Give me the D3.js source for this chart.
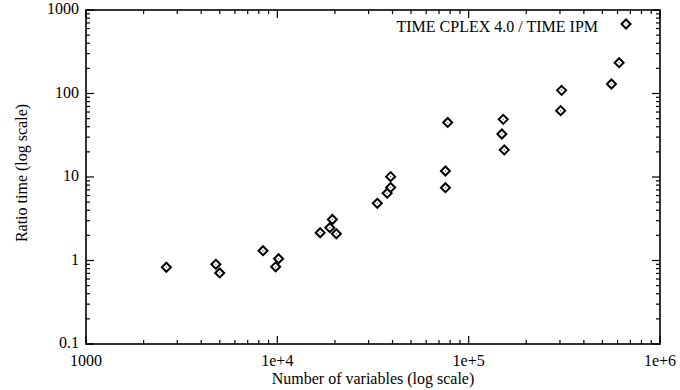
<!DOCTYPE html>
<html>
<head>
<meta charset="utf-8">
<script src="https://cdn.jsdelivr.net/npm/d3@7"></script>
<style>
  body { margin: 0; background: #fff; }
  text { font-family: "Liberation Serif", "DejaVu Serif", serif; font-size: 16px; fill: #000; }
</style>
</head>
<body>
<script>
// number of variables per problem
var variables = [2630, 4770, 5000, 8420, 10150, 9800, 16750, 19400, 18800, 20350,
                 33300, 37500, 39100, 39100, 77700, 75600, 75600,
                 151600, 149100, 153500, 306000, 302500, 557500, 611600];
// ratio TIME CPLEX 4.0 / TIME IPM
var ratios = [0.83, 0.90, 0.71, 1.31, 1.05, 0.84, 2.15, 3.1, 2.47, 2.09,
              4.84, 6.4, 7.5, 10.1, 45, 11.8, 7.45,
              49, 32.7, 21.1, 109, 62.3, 130, 234];
var xTicks = [1e3, 1e4, 1e5, 1e6],
    xTickLabels = ["1000", "1e+4", "1e+5", "1e+6"];
var yTicks = [0.1, 1, 10, 100, 1000],
    yTickLabels = ["0.1", "1", "10", "100", "1000"];
var legendLabel = "TIME CPLEX 4.0 / TIME IPM";

var margin = {top: 10, right: 20, bottom: 46, left: 86},
    width = 680 - margin.left - margin.right,   // 574
    height = 390 - margin.top - margin.bottom;  // 334

var x = d3.scaleLog().domain([1e3, 1e6]).range([0, width]),
    y = d3.scaleLog().domain([0.1, 1000]).range([height, 0]);

var svg = d3.select("body").append("svg")
    .attr("width", 680)
    .attr("height", 390)
  .append("g")
    .attr("transform", "translate(" + margin.left + "," + margin.top + ")");

// minor ticks 2..9 in every decade
function minors(lo, hi) {
  var out = [];
  for (var d = lo; d < hi; d *= 10)
    for (var k = 2; k <= 9; k++) out.push(d * k);
  return out;
}
var xMinor = minors(1e3, 1e6), yMinor = minors(0.1, 1000);

var ticks = svg.append("g").attr("stroke", "#000").attr("stroke-width", 1.2);

// bottom + top
[[height, -1], [0, 1]].forEach(function(s) {
  ticks.selectAll(null).data(xTicks).enter().append("line")
      .attr("x1", function(d) { return x(d); }).attr("x2", function(d) { return x(d); })
      .attr("y1", s[0]).attr("y2", s[0] + s[1] * 8);
  ticks.selectAll(null).data(xMinor).enter().append("line")
      .attr("x1", function(d) { return x(d); }).attr("x2", function(d) { return x(d); })
      .attr("y1", s[0]).attr("y2", s[0] + s[1] * 4);
});
// left + right
[[0, 1], [width, -1]].forEach(function(s) {
  ticks.selectAll(null).data(yTicks).enter().append("line")
      .attr("y1", function(d) { return y(d); }).attr("y2", function(d) { return y(d); })
      .attr("x1", s[0]).attr("x2", s[0] + s[1] * 8);
  ticks.selectAll(null).data(yMinor).enter().append("line")
      .attr("y1", function(d) { return y(d); }).attr("y2", function(d) { return y(d); })
      .attr("x1", s[0]).attr("x2", s[0] + s[1] * 4);
});

svg.append("rect")
    .attr("width", width)
    .attr("height", height)
    .attr("fill", "none")
    .attr("stroke", "#000")
    .attr("stroke-width", 1.6);

// tick labels
svg.selectAll(".xlab").data(xTicks).enter().append("text")
    .attr("class", "xlab")
    .attr("x", function(d) { return x(d); })
    .attr("y", height + 22)
    .attr("text-anchor", "middle")
    .text(function(d, i) { return xTickLabels[i]; });

svg.selectAll(".ylab").data(yTicks).enter().append("text")
    .attr("class", "ylab")
    .attr("x", -7)
    .attr("y", function(d) { return y(d) + 4; })
    .attr("text-anchor", "end")
    .text(function(d, i) { return yTickLabels[i]; });

// axis titles
svg.append("text")
    .attr("x", width / 2)
    .attr("y", height + 40)
    .attr("text-anchor", "middle")
    .text("Number of variables (log scale)");

svg.append("text")
    .attr("transform", "translate(" + (27 - margin.left) + "," + (height / 2 - 4) + ")rotate(-90)")
    .attr("text-anchor", "middle")
    .text("Ratio time (log scale)");

// diamond point symbol
var diamond = "M0,-4.5L4.5,0L0,4.5L-4.5,0Z";
function drawPoint(sel) {
  sel.append("path").attr("d", diamond)
      .attr("fill", "#fff").attr("stroke", "#000").attr("stroke-width", 2);
  sel.append("circle").attr("r", 0.8).attr("fill", "#777");
}

var pts = svg.selectAll(".pt")
    .data(variables.map(function(v, i) { return {x: v, y: ratios[i]}; }))
  .enter().append("g")
    .attr("class", "pt")
    .attr("transform", function(d) { return "translate(" + x(d.x) + "," + y(d.y) + ")"; });
pts.each(function() { drawPoint(d3.select(this)); });

// key
var key = svg.append("g").attr("transform", "translate(" + (width - 34) + ",14)");
key.append("text")
    .attr("x", -28)
    .attr("y", 8)
    .attr("text-anchor", "end")
    .text(legendLabel);
drawPoint(key.append("g"));
</script>
</body>
</html>
